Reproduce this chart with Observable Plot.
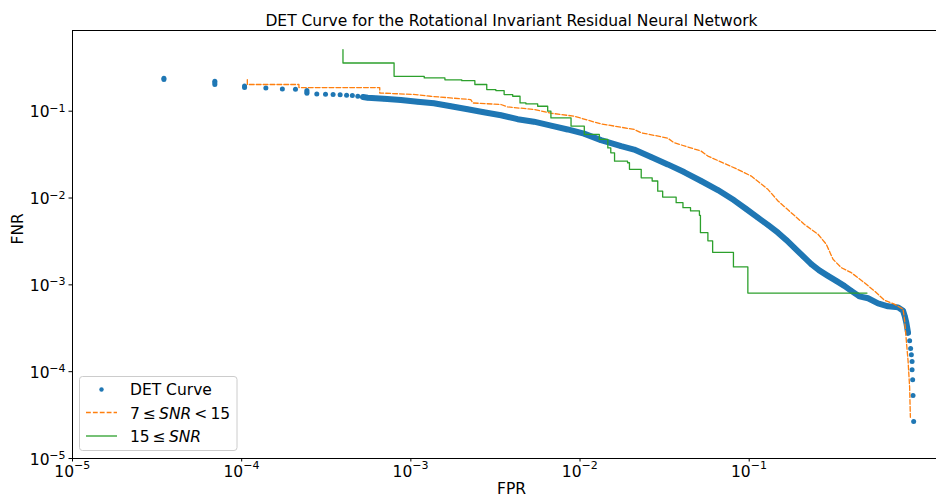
<!DOCTYPE html>
<html><head><meta charset="utf-8">
<script src="https://cdn.jsdelivr.net/npm/d3@7"></script>
<script src="https://cdn.jsdelivr.net/npm/@observablehq/plot@0.6"></script>
<style>
html,body{margin:0;padding:0;background:#fff;overflow:hidden;}
#chart{position:relative;width:936px;height:497px;overflow:hidden;}
</style></head><body><div id="chart"></div>
<script>
// ---------- data ----------
const titleText = "DET Curve for the Rotational Invariant Residual Neural Network";
const xLabel = "FPR";
const yLabel = "FNR";
const xTicks = [1e-5, 1e-4, 1e-3, 1e-2, 1e-1];
const yTicks = [1e-5, 1e-4, 1e-3, 1e-2, 1e-1];
const tickBase = "10";
const tickExps = ["−5", "−4", "−3", "−2", "−1"];

// DET Curve (all SNR)
const detFPR = [3.47e-5, 3.47e-5, 6.94e-5, 6.94e-5, 6.94e-5, 1.04e-4, 1.04e-4, 1.39e-4, 1.74e-4, 2.08e-4,
  2.43e-4, 2.43e-4, 2.43e-4, 2.78e-4, 3.13e-4, 3.47e-4, 3.82e-4, 4.17e-4, 4.51e-4, 4.86e-4, 5.21e-4,
  5.56e-4, 6.92e-4, 8.73e-4, 1.096e-3, 1.368e-3, 1.725e-3, 2.166e-3, 2.70e-3, 3.41e-3, 4.28e-3, 5.34e-3,
  6.74e-3, 8.45e-3, 1.056e-2, 1.33e-2, 1.75e-2, 2.088e-2, 2.63e-2, 3.30e-2, 4.12e-2, 5.20e-2, 6.53e-2,
  8.15e-2, 9.6e-2, 0.1126, 0.129, 0.148, 0.1656, 0.1845, 0.208, 0.2328, 0.2595, 0.292, 0.327, 0.365,
  0.4015, 0.448, 0.504, 0.5775, 0.662, 0.759, 0.812, 0.830, 0.849, 0.869,
  0.888, 0.900, 0.909, 0.918, 0.918, 0.925, 0.930, 0.938];
const detFNR = [0.240, 0.232, 0.222, 0.212, 0.203, 0.195, 0.188, 0.185, 0.180, 0.179,
  0.173, 0.166, 0.161, 0.158, 0.157, 0.156, 0.155, 0.153, 0.1515, 0.1486, 0.146,
  0.1429, 0.139, 0.1349, 0.1285, 0.1236, 0.114, 0.1054, 0.0974, 0.0899, 0.0809, 0.0757,
  0.0681, 0.0616, 0.0551, 0.0464, 0.0396, 0.0361, 0.0296, 0.0244, 0.0199, 0.0157, 0.01236,
  0.00941, 0.00748, 0.00594, 0.0049, 0.00399, 0.00329, 0.00268, 0.00214, 0.00173, 0.001468, 0.001269, 0.00111, 0.000974,
  0.000853, 0.000737, 0.0007, 0.000612, 0.000566, 0.00055, 0.000503, 0.00044, 0.000366, 0.00028,
  0.000227, 0.0001855, 0.0001567, 0.000131, 0.0001054, 0.0000809, 0.000053, 0.0000266];

// 7 <= SNR < 15
const snr7FPR = [1.08e-4, 1.08e-4, 2.18e-4, 2.18e-4, 6.55e-4, 6.55e-4, 1.07e-3, 1.31e-3, 2.26e-3, 2.33e-3,
  3.41e-3, 3.73e-3, 5.35e-3, 6.73e-3, 9.2e-3, 1.33e-2, 2.09e-2, 2.30e-2, 3.30e-2, 3.60e-2, 5.20e-2,
  5.70e-2, 8.49e-2, 0.1028, 0.129, 0.148, 0.1815, 0.2115, 0.255, 0.2855, 0.313, 0.350, 0.4015, 0.479,
  0.549, 0.629, 0.721, 0.812, 0.830, 0.849, 0.869, 0.888, 0.897];
const snr7FNR = [0.231, 0.203, 0.203, 0.187, 0.187, 0.162, 0.1556, 0.1486, 0.136, 0.1244,
  0.1194, 0.112, 0.1047, 0.0948, 0.0877, 0.0714, 0.0617, 0.0564, 0.0490, 0.0433, 0.0347,
  0.0304, 0.0215, 0.0179, 0.0126, 0.00925, 0.0065, 0.00499, 0.00383, 0.00294, 0.00197, 0.00158, 0.00138, 0.00106,
  0.000853, 0.000667, 0.0006, 0.000526, 0.000385, 0.000227, 0.000134, 0.000066, 0.0000298];

// 15 <= SNR (step points: FPR where the curve drops, FNR level after the drop)
const snr15FPR = [3.97e-4, 3.97e-4, 7.96e-4, 1.20e-3, 1.59e-3, 2.0e-3, 2.39e-3, 2.81e-3, 3.18e-3, 3.56e-3,
  4.0e-3, 4.42e-3, 4.79e-3, 5.62e-3, 6.44e-3, 6.73e-3, 8.85e-3, 1.06e-2, 1.30e-2, 1.46e-2, 1.52e-2,
  1.60e-2, 1.91e-2, 1.96e-2, 2.30e-2, 2.67e-2, 2.88e-2, 3.08e-2, 3.70e-2, 4.06e-2, 4.50e-2, 5.08e-2,
  5.15e-2, 5.70e-2, 6.08e-2, 8.07e-2, 9.82e-2, 0.497];
const snr15FNR = [0.512, 0.359, 0.252, 0.2415, 0.230, 0.2245, 0.203, 0.1775, 0.173, 0.1556,
  0.1486, 0.1244, 0.1213, 0.114, 0.100, 0.0837, 0.0673, 0.054, 0.0473, 0.0378, 0.0332,
  0.0266, 0.0255, 0.0214, 0.0171, 0.0157, 0.0120, 0.01026, 0.00883, 0.00775, 0.0071, 0.00632,
  0.00399, 0.00321, 0.00237, 0.00161, 0.000804, 0.000804];

const legendLabels = ["DET Curve", "7 ≤ SNR < 15", "15 ≤ SNR"];

// ---------- build ----------
const BLUE = "#1f77b4", ORANGE = "#ff7f0e", GREEN = "#2ca02c";
const det = detFPR.map((x, i) => ({fpr: x, fnr: detFNR[i]}));
const bandStart = 20, bandEnd = 65; // indices where the markers overlap into a continuous band
const detBand = det.slice(bandStart, bandEnd + 1);
const snr7 = snr7FPR.map((x, i) => ({fpr: x, fnr: snr7FNR[i]}));
const snr15 = snr15FPR.map((x, i) => ({fpr: x, fnr: snr15FNR[i]}));

const FONT = "DejaVu Sans";
const FS = 15.5;
const SUP = 11;
const xMax = 1.28, yMax = 0.85, xMin = 1e-5, yMin = 1e-5;

const plot = Plot.plot({
  width: 936, height: 497,
  marginLeft: 72, marginRight: 0, marginTop: 30, marginBottom: 39,
  style: {fontFamily: FONT, fontSize: FS + "px", color: "black", background: "white", overflow: "visible"},
  x: {type: "log", domain: [xMin, xMax], ticks: xTicks, tickSize: 3.5, tickFormat: () => "", label: null},
  y: {type: "log", domain: [yMin, yMax], ticks: yTicks, tickSize: 3.5, tickFormat: () => "", label: null},
  marks: [
    Plot.line(detBand, {x: "fpr", y: "fnr", stroke: BLUE, strokeWidth: 6, strokeLinejoin: "round", strokeLinecap: "round"}),
    Plot.dot(det, {x: "fpr", y: "fnr", r: 2.5, fill: BLUE, stroke: null}),
    Plot.line(snr7, {x: "fpr", y: "fnr", stroke: ORANGE, strokeWidth: 1.3, strokeDasharray: "4.8,2.1"}),
    Plot.line(snr15, {x: "fpr", y: "fnr", curve: "step-after", stroke: GREEN, strokeWidth: 1.3}),
    Plot.ruleX([xMin], {stroke: "black", strokeWidth: 1}),
    Plot.ruleY([yMin], {stroke: "black", strokeWidth: 1}),
    Plot.ruleY([yMax], {stroke: "black", strokeWidth: 1}),
    // x tick labels 10^k
    Plot.text(xTicks, {x: d => d, frameAnchor: "bottom", text: () => tickBase, textAnchor: "end", lineAnchor: "bottom", dx: 1.5, dy: 18, fontSize: FS, fill: "black"}),
    Plot.text(xTicks, {x: d => d, frameAnchor: "bottom", text: (d, i) => tickExps[i], textAnchor: "start", lineAnchor: "bottom", dx: 1.5, dy: 10.5, fontSize: SUP, fill: "black"}),
    // y tick labels 10^k
    Plot.text(yTicks, {y: d => d, frameAnchor: "left", text: () => tickBase, textAnchor: "end", lineAnchor: "bottom", dx: -23, dy: 6, fontSize: FS, fill: "black"}),
    Plot.text(yTicks, {y: d => d, frameAnchor: "left", text: (d, i) => tickExps[i], textAnchor: "end", lineAnchor: "bottom", dx: -7, dy: 0.5, fontSize: SUP, fill: "black"}),
    // title and axis labels
    Plot.text([titleText], {frameAnchor: "top", dx: 7, dy: -4.5, lineAnchor: "bottom", fontSize: FS, fill: "black"}),
    Plot.text([xLabel], {frameAnchor: "bottom", dx: 7, dy: 35, lineAnchor: "bottom", fontSize: FS, fill: "black"}),
    Plot.text([yLabel], {frameAnchor: "left", dx: -54, rotate: -90, lineAnchor: "middle", fontSize: FS, fill: "black"})
  ]
});

// legend
const svg = d3.select(plot);
const g = svg.append("g").attr("font-family", FONT).attr("font-size", FS + "px").attr("text-anchor", "start");
g.append("rect").attr("x", 79.5).attr("y", 376.5).attr("width", 157.5).attr("height", 74)
  .attr("rx", 3).attr("fill", "white").attr("fill-opacity", 0.8).attr("stroke", "#cccccc").attr("stroke-width", 1);
g.append("circle").attr("cx", 101.5).attr("cy", 389.5).attr("r", 2.2).attr("fill", BLUE);
g.append("line").attr("x1", 86).attr("x2", 117).attr("y1", 412.5).attr("y2", 412.5)
  .attr("stroke", ORANGE).attr("stroke-width", 1.3).attr("stroke-dasharray", "4.8,2.1");
g.append("line").attr("x1", 86).attr("x2", 117).attr("y1", 436).attr("y2", 436)
  .attr("stroke", GREEN).attr("stroke-width", 1.3);
g.append("text").attr("x", 130).attr("y", 395).attr("text-anchor", "start").text(legendLabels[0]);
function mathLabel(y, label) {
  const t = g.append("text").attr("x", 130).attr("y", y).attr("text-anchor", "start");
  const parts = label.split("SNR");
  const thin = s => s.replace(/ /g, "\u2009");
  if (parts[0]) t.append("tspan").text(thin(parts[0]));
  t.append("tspan").attr("font-style", "italic").text("SNR");
  if (parts[1]) t.append("tspan").text(thin(parts[1]));
}
mathLabel(418.5, legendLabels[1]);
mathLabel(442, legendLabels[2]);

document.getElementById("chart").appendChild(plot);
</script>
</body></html>
